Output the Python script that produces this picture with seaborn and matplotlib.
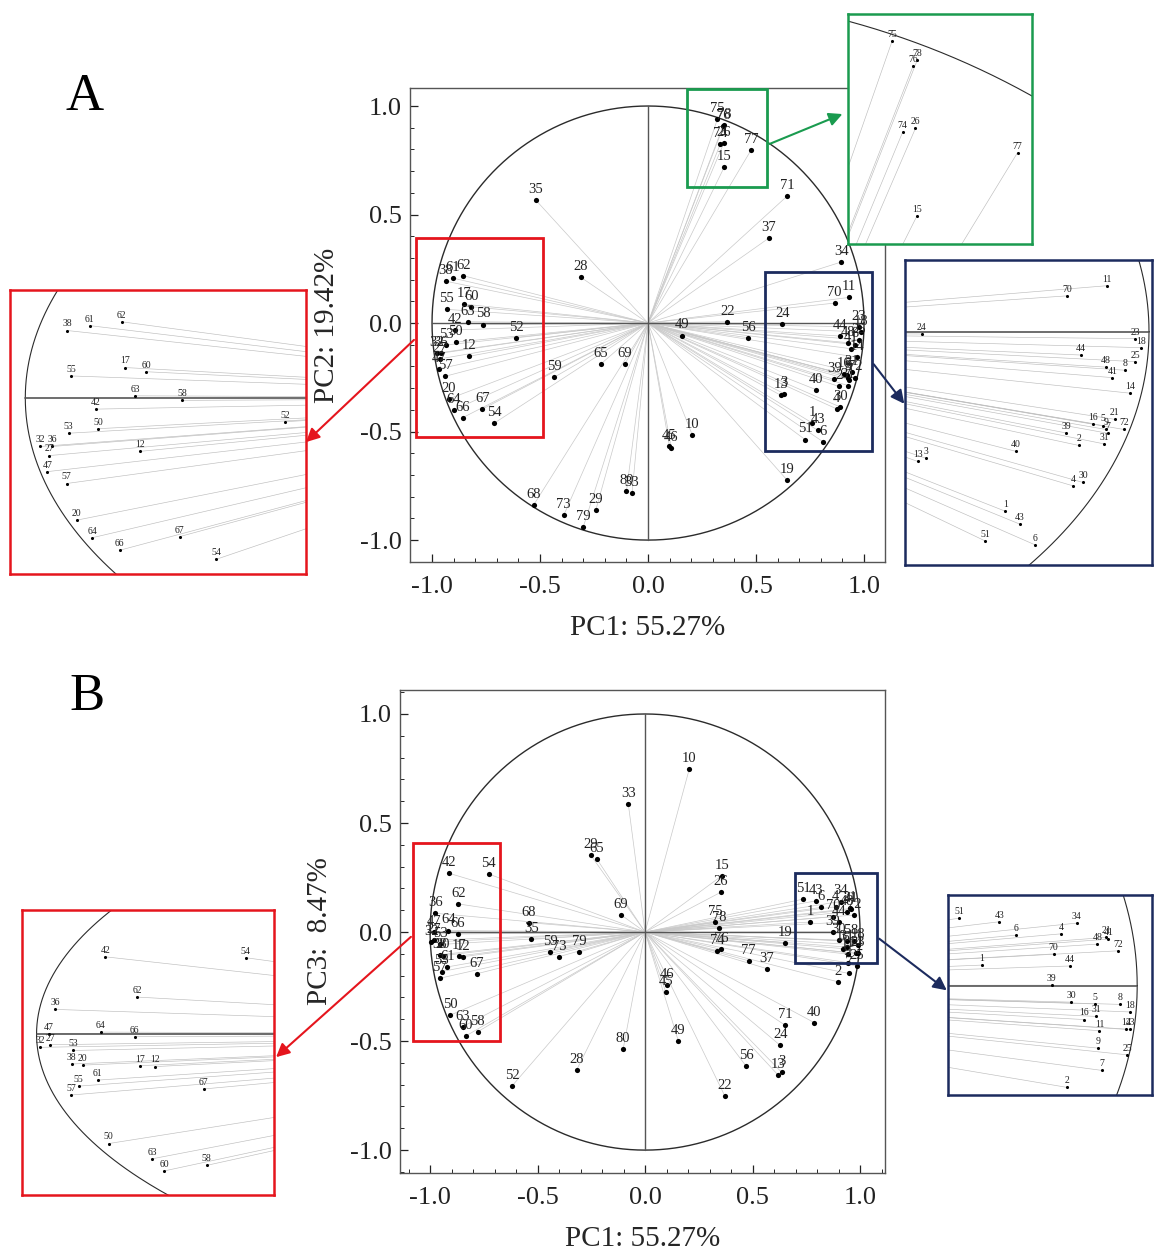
import numpy as np
import pandas as pd
import matplotlib
matplotlib.use("Agg")
import matplotlib.pyplot as plt
import seaborn as sns
from matplotlib.patches import Rectangle, FancyArrowPatch
from matplotlib.ticker import MultipleLocator

# ---------------- data ----------------
var_ids = list(range(1, 81))

pc1_a = [0.761, 0.883, 0.629, 0.874, 0.923, 0.810, 0.932, 0.960, 0.928, 0.205,
         0.930, -0.828, 0.615, 0.969, 0.352, 0.907, -0.850, 0.986, 0.644, -0.923,
         0.943, 0.367, 0.977, 0.622, 0.977, 0.350, -0.964, -0.310, -0.242, 0.890,
         0.925, -0.978, -0.074, 0.894, -0.520, -0.960, 0.560, -0.937, 0.862, 0.778,
         0.939, -0.894, 0.785, 0.887, 0.099, 0.108, -0.967, 0.928, 0.156, -0.890,
         0.727, -0.609, -0.935, -0.713, -0.931, 0.464, -0.938, -0.764, -0.435, -0.818,
         -0.903, -0.855, -0.835, -0.899, -0.220, -0.858, -0.768, -0.530, -0.108, 0.864,
         0.644, 0.958, -0.390, 0.334, 0.321, 0.347, 0.477, 0.352, -0.300, -0.100]
pc2_a = [-0.461, -0.292, -0.325, -0.396, -0.241, -0.547, -0.261, -0.099, -0.251, -0.516,
         0.118, -0.153, -0.333, -0.158, 0.717, -0.236, 0.087, -0.041, -0.724, -0.350,
         -0.225, 0.006, -0.018, -0.006, -0.077, 0.828, -0.165, 0.210, -0.862, -0.387,
         -0.288, -0.139, -0.783, 0.281, 0.567, -0.139, 0.392, 0.193, -0.260, -0.307,
         -0.118, -0.032, -0.494, -0.060, -0.567, -0.576, -0.211, -0.091, -0.058, -0.088,
         -0.537, -0.068, -0.101, -0.462, 0.063, -0.068, -0.245, -0.007, -0.250, 0.075,
         0.207, 0.218, 0.006, -0.400, -0.190, -0.436, -0.397, -0.839, -0.190, 0.092,
         0.585, -0.251, -0.885, 0.823, 0.939, 0.907, 0.797, 0.914, -0.940, -0.776]

pc1_b = [0.769, 0.896, 0.636, 0.887, 0.937, 0.820, 0.948, 0.974, 0.942, 0.206,
         0.944, -0.845, 0.620, 0.983, 0.357, 0.921, -0.865, 0.990, 0.651, -0.940,
         0.954, 0.372, 0.990, 0.629, 0.985, 0.353, -0.982, -0.318, -0.253, 0.902,
         0.939, -0.995, -0.078, 0.910, -0.529, -0.976, 0.567, -0.954, 0.873, 0.788,
         0.957, -0.910, 0.795, 0.900, 0.096, 0.100, -0.984, 0.941, 0.155, -0.906,
         0.736, -0.619, -0.952, -0.727, -0.945, 0.470, -0.955, -0.778, -0.442, -0.833,
         -0.920, -0.869, -0.849, -0.916, -0.223, -0.872, -0.782, -0.541, -0.112, 0.876,
         0.651, 0.972, -0.400, 0.335, 0.326, 0.352, 0.482, 0.345, -0.306, -0.102]
pc3_b = [0.046, -0.228, -0.644, 0.116, -0.041, 0.113, -0.190, -0.042, -0.140, 0.749,
         -0.101, -0.113, -0.657, -0.098, 0.258, -0.076, -0.110, -0.059, -0.049, -0.108,
         0.108, -0.754, -0.098, -0.520, -0.155, 0.183, -0.037, -0.632, 0.353, -0.037,
         -0.069, -0.046, 0.587, 0.140, -0.034, 0.086, -0.168, -0.104, 0.001, -0.416,
         0.104, 0.269, 0.143, 0.044, -0.274, -0.243, 0.001, 0.093, -0.500, -0.381,
         0.151, -0.706, -0.057, 0.266, -0.181, -0.615, -0.212, -0.457, -0.090, -0.476,
         -0.160, 0.129, -0.434, 0.007, 0.333, -0.009, -0.191, 0.043, 0.079, 0.071,
         -0.427, 0.078, -0.113, -0.089, 0.046, -0.079, -0.132, 0.020, -0.092, -0.537]

tick_vals = [-1.0, -0.5, 0.0, 0.5, 1.0]
tick_text = ["-1.0", "-0.5", "0.0", "0.5", "1.0"]

df_a = pd.DataFrame({"id": var_ids, "x": pc1_a, "y": pc2_a})
df_b = pd.DataFrame({"id": var_ids, "x": pc1_b, "y": pc3_b})

# ---------------- style ----------------
sns.set_style("white")
plt.rcParams["font.family"] = ["Liberation Serif", "DejaVu Serif"]

W, H = 1154, 1250
fig = plt.figure(figsize=(W / 100, H / 100), dpi=100)

RED = "#e5151d"
GREEN = "#1a9b4f"
NAVY = "#1c2b5e"


def px_axes(x0, y0, x1, y1):
    return fig.add_axes([x0 / W, 1 - y1 / H, (x1 - x0) / W, (y1 - y0) / H])


def draw_base(ax, df, lw_circle, lw_axis, lw_ray, dot_s, font_s, offset, ray_col):
    t = np.linspace(0, 2 * np.pi, 721)
    ax.plot(np.cos(t), np.sin(t), color="#2b2b2b", lw=lw_circle, zorder=2)
    ax.plot([-1, 1], [0, 0], color="#555555", lw=lw_axis, zorder=2)
    ax.plot([0, 0], [-1, 1], color="#555555", lw=lw_axis, zorder=2)
    for _, r in df.iterrows():
        ax.plot([0, r.x], [0, r.y], color=ray_col, lw=lw_ray, zorder=1)
    sns.scatterplot(data=df, x="x", y="y", ax=ax, color="black", s=dot_s,
                    linewidth=0, legend=False, zorder=3)
    for _, r in df.iterrows():
        ax.annotate(str(int(r.id)), (r.x, r.y), xytext=(0, offset),
                    textcoords="offset points", ha="center", va="bottom",
                    fontsize=font_s, color="#222222", zorder=4,
                    annotation_clip=True)


def draw_main(ax, df, xlim, ylim, xlabel, ylabel, ylabelpad):
    draw_base(ax, df, 1.0, 1.0, 0.5, 14, 10.5, 3, "#c9c9c9")
    ax.set_xlim(*xlim)
    ax.set_ylim(*ylim)
    ax.set_xticks(tick_vals)
    ax.set_xticklabels(tick_text)
    ax.set_yticks(tick_vals)
    ax.set_yticklabels(tick_text)
    ax.xaxis.set_minor_locator(MultipleLocator(0.1))
    ax.yaxis.set_minor_locator(MultipleLocator(0.1))
    ax.tick_params(which="major", direction="in", length=6, width=0.9,
                   labelsize=19, colors="#222222", bottom=True, left=True)
    ax.tick_params(which="minor", direction="in", length=3, width=0.7,
                   bottom=True, left=True)
    ax.tick_params(axis="x", which="major", pad=10)
    ax.tick_params(axis="y", which="major", pad=6)
    ax.set_xlabel(xlabel, fontsize=21, labelpad=12)
    ax.set_ylabel(ylabel, fontsize=21, labelpad=ylabelpad)
    for s in ax.spines.values():
        s.set_color("#555555")
        s.set_linewidth(1.0)


def draw_inset(ax, df, xlim, ylim, color):
    draw_base(ax, df, 0.8, 1.2, 0.45, 5, 7, 1.5, "#bdbdbd")
    ax.set_xlim(*xlim)
    ax.set_ylim(*ylim)
    ax.set_xticks([])
    ax.set_yticks([])
    ax.set_xlabel("")
    ax.set_ylabel("")
    for s in ax.spines.values():
        s.set_color(color)
        s.set_linewidth(1.8)


def box(ax, x0, x1, y0, y1, color):
    ax.add_patch(Rectangle((x0, y0), x1 - x0, y1 - y0, fill=False, ec=color,
                           lw=2.0, zorder=6, clip_on=False))


def arrow(p0, p1, color):
    a = FancyArrowPatch((p0[0] / W, 1 - p0[1] / H), (p1[0] / W, 1 - p1[1] / H),
                        transform=fig.transFigure, arrowstyle="-|>",
                        mutation_scale=20, color=color, lw=1.5, zorder=10)
    fig.add_artist(a)


# ---------------- panel A ----------------
axA = px_axes(410, 88, 885, 562)
draw_main(axA, df_a, (-1.102, 1.097), (-1.101, 1.083), "PC1: 55.27%", "PC2: 19.42%", 14)
box(axA, -1.074, -0.486, -0.525, 0.392, RED)
box(axA, 0.181, 0.551, 0.627, 1.080, GREEN)
box(axA, 0.542, 1.037, -0.590, 0.235, NAVY)

insA_red = px_axes(10, 290, 306, 574)
draw_inset(insA_red, df_a, (-1.023, -0.578), (-0.504, 0.309), RED)
insA_green = px_axes(848, 14, 1032, 244)
draw_inset(insA_green, df_a, (0.266, 0.495), (0.681, 0.973), GREEN)
insA_blue = px_axes(905, 260, 1152, 565)
draw_inset(insA_blue, df_a, (0.594, 1.005), (-0.599, 0.184), NAVY)

# ---------------- panel B ----------------
axB = px_axes(400, 690, 885, 1173)
draw_main(axB, df_b, (-1.140, 1.116), (-1.105, 1.110), "PC1: 55.27%", "PC3:  8.47%", 12)
box(axB, -1.079, -0.674, -0.500, 0.408, RED)
box(axB, 0.698, 1.079, -0.142, 0.271, NAVY)

insB_red = px_axes(22, 910, 274, 1195)
draw_inset(insB_red, df_b, (-1.019, -0.690), (-0.560, 0.432), RED)
insB_blue = px_axes(948, 895, 1152, 1095)
draw_inset(insB_blue, df_b, (0.719, 1.022), (-0.245, 0.203), NAVY)

# arrows
arrow((767, 145), (845, 113), GREEN)
arrow((416, 338), (304, 444), RED)
arrow((872, 362), (906, 406), NAVY)
arrow((413, 935), (274, 1059), RED)
arrow((877, 937), (949, 992), NAVY)

# panel letters
fig.text(85 / W, 1 - 97 / H, "A", fontsize=38, ha="center", va="center", color="black")
fig.text(87 / W, 1 - 697 / H, "B", fontsize=38, ha="center", va="center", color="black")

fig.savefig("out.png", dpi=100)
